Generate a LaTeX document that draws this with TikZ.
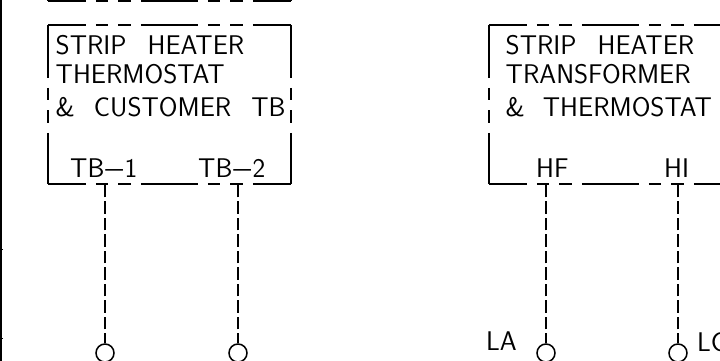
\documentclass[tikz,border=0pt]{standalone}
\usepackage{tikz}
\newcommand{\wdash}{\hspace{1pt}\scalebox{1.4}[1]{\textendash}\hspace{1.5pt}}
\tikzset{
  boxbody/.style={minimum width=243pt, minimum height=159pt, inner sep=0pt},
  hside/.style={line width=1.5pt, dash pattern=on 57pt off 10pt on 12.5pt off 10pt on 12.5pt off 10pt, dash phase=19pt},
  vside/.style={line width=1.5pt, dash pattern=on 57pt off 10pt on 12.5pt off 10pt on 12.5pt off 10pt, dash phase=4pt},
  leadline/.style={line width=1.5pt, dash pattern=on 12.5pt off 4pt, dash phase=2.5pt},
  terminal/.style={circle, draw, line width=1.5pt, minimum size=18pt, inner sep=0pt},
  lbl/.style={anchor=base west, inner sep=0pt, font=\sffamily\fontsize{27}{27}\selectfont}
}
\begin{document}
\begin{tikzpicture}[x=1pt, y=-1pt]
        \useasboundingbox (0, 0) rectangle (720, 361);
        \clip (0, 0) rectangle (720, 361);
        \node[boxbody] (boxa) at (169.5, -78.5) {};
        \node[boxbody] (boxb) at (169.5, 104.5) {};
        \node[boxbody] (boxc) at (610.5, 104.5) {};
        \foreach \b in {boxa, boxb, boxc} {
          \draw[hside] (\b.north west) -- (\b.north east);
          \draw[hside] (\b.south west) -- (\b.south east);
          \draw[vside] (\b.north west) -- (\b.south west);
          \draw[vside] (\b.north east) -- (\b.south east);
        }
        \node[lbl] (ta) at (55.5, 55) {STRIP\hspace{21pt}HEATER};
        \node[lbl] (tb) at (55.5, 84) {THERMOSTAT};
        \node[lbl] (tc) at (55.5, 116) {\&\hspace{19pt}CUSTOMER\hspace{20pt}TB};
        \node[lbl] (td) at (70, 177) {TB\wdash 1};
        \node[lbl] (te) at (198, 177) {TB\wdash 2};
        \node[lbl] (tf) at (505.5, 55) {STRIP\hspace{21pt}HEATER};
        \node[lbl] (tg) at (505.5, 84) {TRANSFORMER};
        \node[lbl] (th) at (505.5, 116) {\&\hspace{18pt}THERMOSTAT};
        \node[lbl] (ti) at (536, 177) {HF};
        \node[lbl] (tj) at (664, 177) {HI};
        \node[lbl] (tk) at (486, 350) {LA};
        \node[lbl] (tl) at (697, 351) {LC};
        \node[terminal] (pa) at (105, 353) {};
        \node[terminal] (pb) at (238, 353) {};
        \node[terminal] (pc) at (546, 353) {};
        \node[terminal] (pd) at (678, 353) {};
        \foreach \p/\b in {pa/boxb, pb/boxb, pc/boxc, pd/boxc} {
          \draw[leadline] (\p.north) -- (\p.north |- \b.south);
        }
        \coordinate (edgetop) at (1.2, 0);
        \coordinate (edgebot) at (1.2, 361);
        \coordinate (ticka) at (3, 249);
        \coordinate (tickb) at (3, 338);
        \draw[line width=2pt] (edgetop) -- (edgebot);
        \draw[line width=0.7pt] (ticka) -- (ticka -| edgetop);
        \draw[line width=0.7pt] (tickb) -- (tickb -| edgetop);
      \end{tikzpicture}
\end{document}
